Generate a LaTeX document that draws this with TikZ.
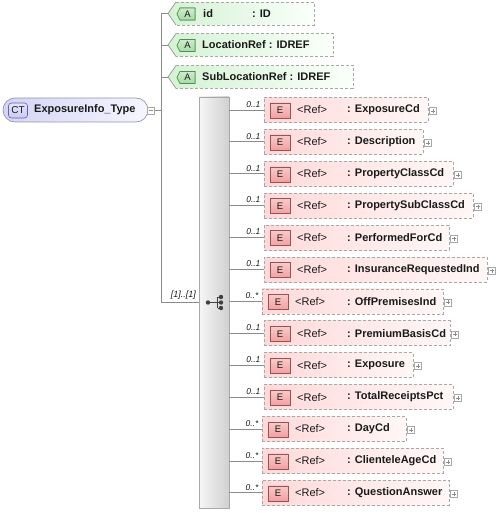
\documentclass[tikz,border=0pt]{standalone}
\usepackage{fontspec}
\setmainfont{Liberation Sans}
\usetikzlibrary{calc}
\definecolor{lineC}{HTML}{8C8C8C}
\definecolor{boxB}{HTML}{A8A8A8}
\definecolor{elL}{HTML}{FFD9D9}
\definecolor{elR}{HTML}{FFF7F7}
\definecolor{ebF}{HTML}{F2A0A0}
\definecolor{ebB}{HTML}{9C5050}
\definecolor{atL}{HTML}{D4F2D4}
\definecolor{atR}{HTML}{FAFFFA}
\definecolor{abF}{HTML}{A6DCA6}
\definecolor{abB}{HTML}{4F8F4F}
\definecolor{ctL}{HTML}{D4D4F6}
\definecolor{ctR}{HTML}{F6F6FE}
\definecolor{ctB}{HTML}{9494B0}
\definecolor{cbF}{HTML}{CACAF2}
\definecolor{cbB}{HTML}{6262A8}
\definecolor{sqL}{HTML}{F6F6F6}
\definecolor{sqR}{HTML}{D0D0D0}
\definecolor{txt}{HTML}{1A1A1A}
\begin{document}
\begin{tikzpicture}[x=1pt,y=-1pt,
  font=\fontsize{11}{13}\selectfont, text=txt,
  conn/.style={draw=lineC,line width=0.8pt},
  dsh/.style={dash pattern=on 3pt off 2pt},
  elbox/.style={draw=boxB,dsh,line width=0.7pt,left color=elL,right color=elR,minimum height=25pt,inner sep=0pt},
  ebadge/.style={draw=ebB,line width=0.6pt,top color=ebF!55!white,bottom color=ebF,minimum width=20pt,minimum height=15pt,inner sep=0pt,font=\fontsize{9.5}{10}\selectfont},
  reftxt/.style={anchor=west,inner sep=0pt},
  nametxt/.style={anchor=west,inner sep=0pt,font=\fontsize{11}{13}\selectfont\bfseries},
  mult/.style={anchor=south east,inner sep=0pt,font=\fontsize{8.5}{9}\selectfont\itshape},
  plusbox/.style={draw=boxB,fill=white,minimum size=7pt,inner sep=0pt,line width=0.5pt},
  pluslines/.style={draw=lineC,line width=0.5pt},
  abadge/.style={draw=abB,line width=0.6pt,top color=abF!55!white,bottom color=abF},
  seqbox/.style={draw=boxB,line width=0.7pt,left color=sqL,right color=sqR,minimum width=30pt,minimum height=411pt,inner sep=0pt},
  ctbox/.style={draw=ctB,line width=0.7pt,left color=ctL,right color=ctR,rounded corners=12pt,minimum width=145pt,minimum height=24pt,inner sep=0pt},
  ctbadge/.style={draw=cbB,line width=0.6pt,top color=cbF!50!white,bottom color=cbF,rounded corners=3pt,minimum width=19pt,minimum height=15pt,inner sep=0pt,font=\fontsize{10}{11}\selectfont},
  symb/.style={draw=black!75,line width=0.9pt}
]
\useasboundingbox (0,0) rectangle (499,513);

% ---------- complex type ----------
\node[ctbox] (ct) at (75.5,110) {};
\node[ctbadge] (ctb) at (18,110.5) {CT};
\node[nametxt] (ctn) at (34,110) {ExposureInfo\_Type};
\node[plusbox] (ctm) at (151,110.5) {};
\draw[pluslines] ($(ctm.center)+(-2,0)$) -- ($(ctm.center)+(2,0)$);

\coordinate (bus) at (161,110.5);
\coordinate (bt) at (161,13.5);
\coordinate (bb) at (161,302.5);
\draw[conn] (ctm.east) -- (bus);
\draw[conn] (bt) -- (bb);

% ---------- attributes ----------
\foreach \k/\yy/\r in {1/13.5/314, 2/45/333, 3/77/353}{
  \coordinate (at\k) at (168,\yy);
  \shade[left color=atL,right color=atR] (at\k) -- (176,{\yy-11.5}) -- (\r,{\yy-11.5}) -- (\r,{\yy+11.5}) -- (176,{\yy+11.5}) -- cycle;
  \draw[draw=boxB,dsh,line width=0.7pt] (176,{\yy-11.5}) -- (\r,{\yy-11.5}) -- (\r,{\yy+11.5}) -- (176,{\yy+11.5});
  \draw[draw=lineC!90,line width=0.7pt] (176,{\yy-11.5}) -- (at\k) -- (176,{\yy+11.5});
  \coordinate (abc\k) at (187.5,{\yy+0.5});
  \shade[abadge] ($(abc\k)+(-10.5,0)$) -- ($(abc\k)+(-7.5,-6)$) -- ($(abc\k)+(7.5,-6)$) -- ($(abc\k)+(7.5,6)$) -- ($(abc\k)+(-7.5,6)$) -- cycle;
  \draw[abadge] ($(abc\k)+(-10.5,0)$) -- ($(abc\k)+(-7.5,-6)$) -- ($(abc\k)+(7.5,-6)$) -- ($(abc\k)+(7.5,6)$) -- ($(abc\k)+(-7.5,6)$) -- cycle;
  \node[inner sep=0pt,font=\fontsize{9.5}{10}\selectfont] (ab\k) at (abc\k) {A};
  \draw[conn] (bt |- at\k) -- (at\k);
}
\node[nametxt] (an1) at (203,13.5) {id};
\node[nametxt] (at1t) at (252,13.5) {: ID};
\node[nametxt] (an2) at (202,45) {LocationRef : IDREF};
\node[nametxt] (an3) at (202,77) {SubLocationRef : IDREF};

% ---------- sequence ----------
\node[seqbox] (seq) at (214,302.5) {};
\draw[conn] (bb) -- (seq.west);
\node[mult,font=\fontsize{9}{10}\selectfont\itshape] (sm) at (196,299.5) {[1]..[1]};
\draw[symb] ($(seq.center)+(-6,0)$) -- ($(seq.center)+(3.5,0)$);
\draw[symb] ($(seq.center)+(3.5,-5.5)$) -- ($(seq.center)+(3.5,5.5)$);
\foreach \d in {-5.5,0,5.5}{
  \draw[symb] ($(seq.center)+(3.5,\d)$) -- ($(seq.center)+(7,\d)$);
  \fill[black!75] ($(seq.center)+(7,\d)$) circle (2.2pt);
}
\fill[black!75] ($(seq.center)+(-6,0)$) circle (2.2pt);

% ---------- elements ----------
\foreach \k/\l/\r/\m/\nm in {
  1/264/428/0..1/ExposureCd,
  2/264/423/0..1/Description,
  3/264/453/0..1/PropertyClassCd,
  4/264/473/0..1/PropertySubClassCd,
  5/264/449/0..1/PerformedForCd,
  6/264/487/0..1/InsuranceRequestedInd,
  7/262/443/0..*/OffPremisesInd,
  8/264/450/0..1/PremiumBasisCd,
  9/264/413/0..1/Exposure,
  10/264/453/0..1/TotalReceiptsPct,
  11/262/406/0..*/DayCd,
  12/262/443/0..*/ClienteleAgeCd,
  13/262/449/0..*/QuestionAnswer}{
  \pgfmathsetmacro\yy{110+31.9*(\k-1)}
  \node[elbox,minimum width={(\r-\l)*1pt}] (e\k) at ({(\l+\r)/2},\yy) {};
  \node[ebadge] (eb\k) at ({\l+16},{\yy+0.5}) {E};
  \node[reftxt] (er\k) at ({\l+33},\yy) {<Ref>};
  \node[nametxt] (en\k) at (347,\yy) {: \nm};
  \node[plusbox] (ep\k) at ($(e\k.east)+(4.5,1)$) {};
  \draw[pluslines] ($(ep\k.center)+(-2,0)$) -- ($(ep\k.center)+(2,0)$) ($(ep\k.center)+(0,-2)$) -- ($(ep\k.center)+(0,2)$);
  \draw[conn] (seq.east |- e\k.west) -- (e\k.west);
  \node[mult] (em\k) at ($(e\k.west)+(-3,-2.5)$) {\m};
}
\end{tikzpicture}
\end{document}
